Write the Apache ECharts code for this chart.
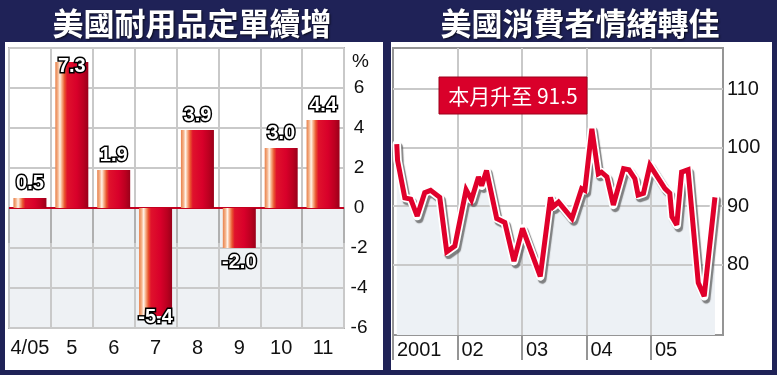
<!DOCTYPE html>
<html><head><meta charset="utf-8">
<script src="https://cdn.jsdelivr.net/npm/echarts@6/dist/echarts.min.js"></script>
<style>html,body{margin:0;padding:0;background:#fff;} #c{width:777px;height:375px;}</style>
</head><body><div id="c"></div>
<script>
// ---------- data ----------
const barCategories = ['4/05', '5', '6', '7', '8', '9', '10', '11'];
const barValues = [0.5, 7.3, 1.9, -5.4, 3.9, -2.0, 3.0, 4.4];

// consumer sentiment: x = months since Jan 2001, y = index
const sentMonths = [0.7, 0.85, 2.2, 3.3, 4.5, 5.9, 7.0, 8.7, 10.0, 11.5, 13.6, 14.6, 15.9, 16.5, 17.4,
  19.3, 20.8, 22.5, 24.1, 27.4, 29.3, 29.8, 30.8, 33.3, 35.1, 35.7, 37.0, 38.2, 38.8, 39.8, 41.0,
  42.9, 43.9, 45.0, 45.6, 46.6, 47.8, 50.6, 51.5, 51.9, 52.8, 53.7, 54.9, 56.8, 57.9, 59.9];
const sentValues = [100.6, 97.8, 91.4, 91.2, 88.3, 92.3, 92.7, 91.5, 82.2, 83.2, 92.8, 91.1, 95.0, 93.5, 96.1,
  87.9, 87.2, 80.6, 86.2, 78.0, 91.5, 89.9, 90.7, 87.9, 93.0, 92.7, 103.2, 95.5, 95.8, 95.0, 90.2,
  96.4, 96.2, 94.7, 91.9, 92.2, 97.0, 93.0, 92.2, 88.2, 86.8, 95.8, 96.2, 76.9, 74.6, 91.5];
const yearTicks = [0, 12, 24, 36, 48];
const yearLabels = ['2001', '02', '03', '04', '05'];
const sentTicks = [80, 90, 100, 110];
const latestValue = '91.5';

const titleLeft = '美國耐用品定單續增';
const titleRight = '美國消費者情緒轉佳';

// ---------- styling ----------
const NAVY = '#1f2257';
const LAT = "'Liberation Sans', Arial, Helvetica, sans-serif";
const CJK = "'Noto Sans CJK TC', 'Noto Sans CJK SC', sans-serif";
const GRIDC = '#c9c9c9';

const barGradient = {
  type: 'linear', x: 0, y: 0, x2: 1, y2: 0,
  colorStops: [
    {offset: 0, color: '#e8804a'}, {offset: 0.08, color: '#f5b48c'},
    {offset: 0.14, color: '#fff3ea'}, {offset: 0.2, color: '#f7b088'},
    {offset: 0.28, color: '#e9552f'}, {offset: 0.36, color: '#e0122c'},
    {offset: 0.65, color: '#d8002a'}, {offset: 0.85, color: '#bb0020'},
    {offset: 1, color: '#9a001a'}
  ]
};

const barData = barValues.map(v => {
  const neg = v < 0;
  const deep = Math.abs(v) > 5; // no room outside: tuck label over the bar end
  return {
    value: v,
    label: {position: neg ? 'bottom' : 'top', distance: deep ? (neg ? -9 : -14) : (neg ? 4 : 5)}
  };
});

const sentData = sentMonths.map((m, i) => [m, sentValues[i]]);

const chart = echarts.init(document.getElementById('c'), null, {renderer: 'canvas'});
chart.setOption({
  animation: false,
  backgroundColor: '#fff',
  graphic: [
    {type: 'rect', shape: {x: 0, y: 0, width: 777, height: 42}, style: {fill: NAVY}, silent: true},
    {type: 'rect', shape: {x: 0, y: 0, width: 5, height: 375}, style: {fill: NAVY}, silent: true},
    {type: 'rect', shape: {x: 383, y: 0, width: 8, height: 375}, style: {fill: NAVY}, silent: true},
    {type: 'rect', shape: {x: 772, y: 0, width: 5, height: 375}, style: {fill: NAVY}, silent: true},
    {type: 'rect', shape: {x: 0, y: 370, width: 777, height: 5}, style: {fill: NAVY}, silent: true},
    {type: 'text', x: 192, y: 23, z2: 10, silent: true,
      style: {text: titleLeft, fill: '#fff', font: 'bold 31px ' + CJK, align: 'center', verticalAlign: 'middle',
        textAlign: 'center', textVerticalAlign: 'middle',
        textShadowColor: 'rgba(0,0,0,0.7)', textShadowBlur: 2, textShadowOffsetX: 1, textShadowOffsetY: 1}},
    {type: 'text', x: 580, y: 23, z2: 10, silent: true,
      style: {text: titleRight, fill: '#fff', font: 'bold 31px ' + CJK, align: 'center', verticalAlign: 'middle',
        textAlign: 'center', textVerticalAlign: 'middle',
        textShadowColor: 'rgba(0,0,0,0.7)', textShadowBlur: 2, textShadowOffsetX: 1, textShadowOffsetY: 1}},
    {type: 'rect', z: 50, shape: {x: 439, y: 77, width: 148, height: 37},
      style: {fill: '#d9002a', stroke: '#9c001a', lineWidth: 1}, silent: true},
    {type: 'text', z: 51, x: 513, y: 96, silent: true,
      style: {text: '本月升至 ' + latestValue, fill: '#fff', font: '21px ' + CJK, align: 'center', verticalAlign: 'middle',
        textAlign: 'center', textVerticalAlign: 'middle'}}
  ],
  grid: [
    {left: 9, top: 48, width: 335, height: 280, show: true, borderColor: '#b0b0b0', borderWidth: 2, backgroundColor: 'transparent'},
    {left: 393, top: 48, width: 330, height: 287, show: true, borderColor: '#959595', borderWidth: 2, backgroundColor: 'transparent'}
  ],
  xAxis: [
    {gridIndex: 0, type: 'category', data: barCategories, boundaryGap: true,
      axisLine: {show: true, lineStyle: {color: '#b0b0b0', width: 2}},
      axisTick: {show: true, interval: 0, length: 35, lineStyle: {color: '#b0b0b0', width: 2}},
      axisLabel: {interval: 0, margin: 10, color: '#111', fontSize: 20, fontFamily: LAT},
      splitLine: {show: true, interval: 0, lineStyle: {color: GRIDC, width: 2}}},
    {gridIndex: 1, type: 'value', min: 0, max: 61.4,
      axisLine: {show: true, lineStyle: {color: '#959595', width: 2}},
      axisTick: {show: true, customValues: yearTicks, length: 25, lineStyle: {color: '#959595', width: 2}},
      axisLabel: {customValues: yearTicks, formatter: v => yearLabels[yearTicks.indexOf(v)] || '',
        align: 'left', margin: 5, padding: [0, 0, 0, 4], color: '#111', fontSize: 20, fontFamily: LAT},
      splitLine: {show: false}}
  ],
  yAxis: [
    {gridIndex: 0, type: 'value', position: 'right', min: -6, max: 8, interval: 2,
      name: '%', nameLocation: 'end', nameGap: -14,
      nameTextStyle: {align: 'left', verticalAlign: 'middle', padding: [0, 0, 0, 8], color: '#111', fontSize: 19, fontFamily: LAT},
      axisLine: {show: false}, axisTick: {show: false},
      axisLabel: {margin: 15, align: 'center', color: '#111', fontSize: 19, fontFamily: LAT,
        formatter: v => (v === 8 ? '' : String(v))},
      splitLine: {show: true, lineStyle: {color: GRIDC, width: 2}},
      splitArea: {show: true, areaStyle: {color: ['#eef1f4', '#eef1f4', '#eef1f4', '#ffffff', '#ffffff', '#ffffff', '#ffffff']}}},
    {gridIndex: 1, type: 'value', position: 'right', min: 68, max: 117,
      axisLine: {show: false}, axisTick: {show: false},
      axisLabel: {customValues: sentTicks, margin: 4, color: '#111', fontSize: 20, fontFamily: LAT},
      splitLine: {show: false}}
  ],
  series: [
    {type: 'bar', xAxisIndex: 0, yAxisIndex: 0, data: barData, barWidth: 33, z: 3,
      itemStyle: {color: barGradient},
      label: {show: true, formatter: p => p.value.toFixed(1), color: '#fff', fontSize: 20, fontWeight: 'bold',
        fontFamily: LAT, textBorderColor: '#000', textBorderWidth: 3},
      markLine: {silent: true, symbol: 'none', z: 2, label: {show: false},
        lineStyle: {color: '#c4001f', width: 2, type: 'solid'}, data: [{yAxis: 0}]}},
    {type: 'line', xAxisIndex: 1, yAxisIndex: 1, data: sentData, symbol: 'none', z: 1,
      lineStyle: {width: 0}, areaStyle: {color: '#edf1f5', origin: 'start', opacity: 1},
      markLine: {silent: true, symbol: 'none', z: 2, label: {show: false},
        lineStyle: {color: GRIDC, width: 2, type: 'solid'},
        data: sentTicks.map(v => ({yAxis: v})).concat(yearTicks.slice(1).map(v => ({xAxis: v})))}},
    {type: 'line', xAxisIndex: 1, yAxisIndex: 1, data: sentData, symbol: 'none', z: 8,
      lineStyle: {width: 8.5, color: '#ffffff', join: 'round', cap: 'round',
        shadowColor: 'rgba(90,90,90,0.75)', shadowBlur: 1, shadowOffsetX: 2, shadowOffsetY: 3}},
    {type: 'line', xAxisIndex: 1, yAxisIndex: 1, data: sentData, symbol: 'none', z: 9,
      lineStyle: {width: 5, color: '#e0002b', join: 'miter', miterLimit: 3, cap: 'butt'}}
  ]
});
</script></body></html>
